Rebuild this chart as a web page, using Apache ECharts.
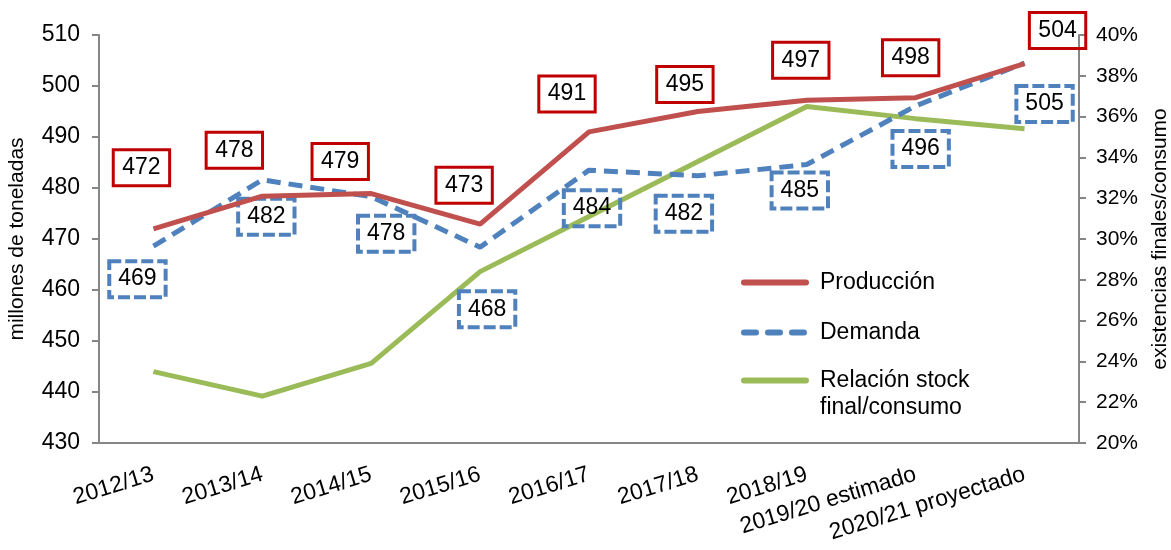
<!DOCTYPE html>
<html>
<head>
<meta charset="utf-8">
<script src="https://cdn.jsdelivr.net/npm/echarts@6/dist/echarts.min.js"></script>
<style>
  html, body { margin: 0; padding: 0; background: #fff; }
  #chart { width: 1171px; height: 550px; }
</style>
</head>
<body>
<div id="chart"></div>
<script>
// campañas
const categories = ['2012/13', '2013/14', '2014/15', '2015/16', '2016/17', '2017/18', '2018/19', '2019/20 estimado', '2020/21 proyectado'];
// millones de toneladas
const produccion = [472.0, 478.4, 478.9, 472.9, 491.0, 495.0, 497.2, 497.7, 504.4];
const demanda = [468.6, 481.6, 478.3, 468.4, 483.5, 482.4, 484.6, 496.1, 504.5];
// relación stock final / consumo (%)
const relacion = [23.5, 22.3, 23.9, 28.4, 31.1, 33.8, 36.5, 35.9, 35.4];

// desplazamiento de las etiquetas respecto al punto (px)
const prodLabelOffset = [[-12, -61], [-28, -46], [-31, -32], [-16, -39], [-22, -38], [-13, -27], [-6, -40], [-5, -40], [33, -33]];
const demLabelOffset = [[-16, 33], [4, 37], [15, 37], [7, 62], [3, 38], [-14, 38], [-7, 26], [5, 43], [20, 41]];

const FONT = '"Liberation Sans", Arial, sans-serif';
const RED = '#c0504d';
const BLUE = '#4f81bd';
const GREEN = '#9bbb59';

const withLabels = (values, offsets) => values.map((v, i) => ({
    value: v,
    label: { offset: offsets[i] }
}));

const legendText = { fontFamily: FONT, fontSize: 23, lineHeight: 27, color: '#000', padding: [0, 0, 0, 6] };

const chart = echarts.init(document.getElementById('chart'));

chart.setOption({
    animation: false,
    textStyle: { fontFamily: FONT, color: '#000' },
    grid: { left: 99, right: 92, top: 35, bottom: 107, outerBoundsMode: 'none' },
    legend: [
        {
            orient: 'vertical',
            left: 736,
            top: 264,
            itemWidth: 68,
            itemHeight: 6,
            itemGap: 23,
            selectedMode: false,
            textStyle: legendText,
            data: [
                { name: 'Producción', icon: 'path://M3,0h62a3,3 0 0 1 0,6h-62a3,3 0 0 1 0,-6z' },
                { name: 'Demanda', icon: 'path://M3,0h12a3,3 0 0 1 0,6h-12a3,3 0 0 1 0,-6z M27,0h12a3,3 0 0 1 0,6h-12a3,3 0 0 1 0,-6z M51,0h12a3,3 0 0 1 0,6h-12a3,3 0 0 1 0,-6z M68,0h0.01v0.01h-0.01z' }
            ]
        },
        {
            orient: 'vertical',
            left: 736,
            top: 362,
            itemWidth: 68,
            itemHeight: 33,
            selectedMode: false,
            formatter: name => name.replace(' final', '\nfinal'),
            textStyle: legendText,
            data: [{ name: 'Relación stock final/consumo', icon: 'path://M3,0h62a3,3 0 0 1 0,6h-62a3,3 0 0 1 0,-6z M0,33h0.01v0.01h-0.01z' }]
        }
    ],
    xAxis: {
        type: 'category',
        data: categories,
        axisLine: { lineStyle: { color: '#868686', width: 2 } },
        axisTick: { show: false },
        axisLabel: { rotate: 17, fontSize: 23, color: '#000', fontFamily: FONT, margin: 31, interval: 0 }
    },
    yAxis: [
        {
            type: 'value',
            min: 430,
            max: 510,
            interval: 10,
            name: 'millones de toneladas',
            nameLocation: 'middle',
            nameRotate: 90,
            nameGap: 71,
            nameTextStyle: { fontSize: 21, color: '#000', fontFamily: FONT },
            splitLine: { show: false },
            axisLine: { show: true, lineStyle: { color: '#868686', width: 2 } },
            axisTick: { show: true, length: 7, lineStyle: { color: '#868686', width: 2 } },
            axisLabel: { fontSize: 23, color: '#000', fontFamily: FONT, margin: 19 }
        },
        {
            type: 'value',
            min: 20,
            max: 40,
            interval: 2,
            position: 'right',
            name: 'existencias finales/consumo',
            nameLocation: 'middle',
            nameRotate: 90,
            nameGap: 71,
            nameTextStyle: { fontSize: 21, color: '#000', fontFamily: FONT },
            splitLine: { show: false },
            axisLine: { show: true, lineStyle: { color: '#868686', width: 2 } },
            axisTick: { show: true, length: 7, lineStyle: { color: '#868686', width: 2 } },
            axisLabel: { fontSize: 21, color: '#000', fontFamily: FONT, margin: 17, formatter: '{value}%' }
        }
    ],
    series: [
        {
            name: 'Relación stock final/consumo',
            type: 'line',
            yAxisIndex: 1,
            data: relacion,
            symbol: 'none',
            lineStyle: { color: GREEN, width: 5 },
            itemStyle: { color: GREEN },
            z: 2
        },
        {
            name: 'Demanda',
            type: 'line',
            data: withLabels(demanda, demLabelOffset),
            symbol: 'circle',
            symbolSize: 0.1,
            lineStyle: { color: BLUE, width: 5, type: [14, 8] },
            itemStyle: { color: BLUE },
            label: {
                show: true,
                position: 'inside',
                formatter: p => Math.round(p.value),
                fontSize: 23,
                lineHeight: 25,
                color: '#000',
                fontFamily: FONT,
                borderColor: BLUE,
                borderWidth: 4,
                borderType: [12, 4],
                padding: [6, 9, 5, 9]
            },
            z: 3
        },
        {
            name: 'Producción',
            type: 'line',
            data: withLabels(produccion, prodLabelOffset),
            symbol: 'circle',
            symbolSize: 0.1,
            lineStyle: { color: RED, width: 5 },
            itemStyle: { color: RED },
            label: {
                show: true,
                position: 'inside',
                formatter: p => Math.round(p.value),
                fontSize: 23,
                lineHeight: 25,
                color: '#000',
                fontFamily: FONT,
                borderColor: '#c00000',
                borderWidth: 3,
                padding: [6, 9, 5, 9]
            },
            z: 4
        }
    ]
});
</script>
</body>
</html>
